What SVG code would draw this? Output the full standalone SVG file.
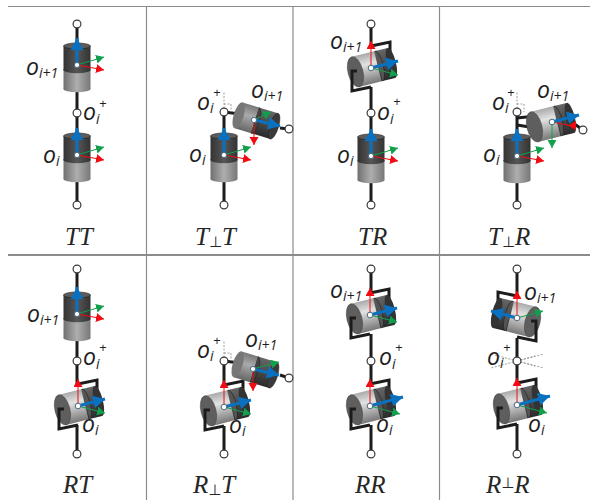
<svg xmlns="http://www.w3.org/2000/svg" xmlns:xlink="http://www.w3.org/1999/xlink" width="590" height="501" viewBox="0 0 590 501">
<style>
.grid{stroke:#8c8c8c;fill:none}
.ax{stroke:#1c1c1c;stroke-width:3;fill:none}
.br{stroke:#1c1c1c;stroke-width:3;fill:none;stroke-linejoin:miter}
.pt{fill:#fff;stroke:#3a3a3a;stroke-width:1.2}
.org{fill:#fff;stroke:#4a6a80;stroke-width:1}
.bl{stroke:#0a70c0;stroke-width:3;fill:none;marker-end:url(#mb)}
.re{stroke:#f00c12;stroke-width:1;fill:none;marker-end:url(#mr)}
.gr{stroke:#10a04c;stroke-width:1;fill:none;marker-end:url(#mg)}
.dot{stroke:#888;stroke-width:.8;stroke-dasharray:2 1.5;fill:none}
.o{font:italic 23px "Open Sans","Liberation Sans",sans-serif;fill:#1e1e1e}
.s{font-size:14px}
.p{font:italic 13px "Open Sans","Liberation Sans",sans-serif;fill:#1e1e1e}
.c{font:italic 25px "Liberation Serif",serif;fill:#262626}
.u{font:15px "DejaVu Sans",sans-serif;fill:#262626}
</style>
<defs>
<marker id="mb" markerUnits="userSpaceOnUse" markerWidth="14" markerHeight="14" refX="12" refY="7" orient="auto"><path d="M0,.5L12,7L0,13.500z" fill="#0a70c0"/></marker>
<marker id="mr" markerUnits="userSpaceOnUse" markerWidth="10" markerHeight="10" refX="8" refY="4.500" orient="auto"><path d="M0,0L8,4.500L0,9z" fill="#f00c12"/></marker>
<marker id="mg" markerUnits="userSpaceOnUse" markerWidth="10" markerHeight="10" refX="8" refY="4.500" orient="auto"><path d="M0,0L8,4.500L0,9z" fill="#10a04c"/></marker>
<linearGradient id="gd"><stop offset="0" stop-color="#333"/><stop offset=".5" stop-color="#565656"/><stop offset="1" stop-color="#333"/></linearGradient>
<linearGradient id="gg"><stop offset="0" stop-color="#707070"/><stop offset=".5" stop-color="#aeaeae"/><stop offset="1" stop-color="#777"/></linearGradient>
<linearGradient id="gl" x1="0" y1="0" x2="0" y2="1"><stop offset="0" stop-color="#aaa"/><stop offset=".35" stop-color="#e2e2e2"/><stop offset="1" stop-color="#777"/></linearGradient>
<linearGradient id="gk" x1="0" y1="0" x2="0" y2="1"><stop offset="0" stop-color="#666"/><stop offset=".5" stop-color="#4a4a4a"/><stop offset="1" stop-color="#2a2a2a"/></linearGradient>
<linearGradient id="gm" x1="0" y1="0" x2="0" y2="1"><stop offset="0" stop-color="#777"/><stop offset=".4" stop-color="#aaa"/><stop offset="1" stop-color="#666"/></linearGradient>
<g id="pc">
<rect x="-13.500" y="4" width="27" height="20" fill="url(#gg)"/>
<ellipse cy="24" rx="13.500" ry="3.200" fill="url(#gg)"/>
<rect x="-13.500" y="-19" width="27" height="24" fill="url(#gd)"/>
<ellipse cy="5" rx="13.500" ry="3.200" fill="url(#gd)"/>
<ellipse cy="-19" rx="13.500" ry="3" fill="#5c5c5c" stroke="#222" stroke-width=".6"/>
</g>
<g id="pf">
<use xlink:href="#pc" href="#pc"/>
<path class="gr" d="M0,0L27,-8"/><path class="re" d="M0,0L27,5"/><path class="bl" d="M0,0L0,-27"/>
<circle class="org" r="2.600"/>
</g>
<g id="tc" transform="rotate(17)">
<rect x="-16" y="-13.500" width="18" height="27" fill="url(#gm)"/>
<ellipse cx="-16" rx="5" ry="13.500" fill="#777"/>
<rect x="1" y="-13.500" width="20" height="27" fill="url(#gk)"/>
<path d="M1,-13.500A4.500,13.500 0 0 1 1,13.500" fill="#444" stroke="#222" stroke-width=".5"/>
<ellipse cx="21" rx="4.500" ry="13.500" fill="#3a3a3a" stroke="#222" stroke-width=".5"/>
</g>
<g id="rc" transform="rotate(-14)">
<rect x="-16" y="-15.500" width="24" height="31" fill="url(#gl)"/>
<rect x="7" y="-15.500" width="14" height="31" fill="url(#gk)"/>
<ellipse cx="21" rx="4.500" ry="15.500" fill="#333"/>
<path d="M8,-15.500A4.500,15.500 0 0 1 8,15.500" fill="#555" stroke="#222" stroke-width=".6"/>
<ellipse cx="-16" rx="7.500" ry="15.500" fill="#5e5e5e" stroke="#444" stroke-width=".5"/>
</g>
<g id="rf">
<path class="br" d="M0,-22L19,-26V-3"/>
<use xlink:href="#rc" href="#rc"/>
<path class="br" d="M-14,3H-19V23L0,19"/>
</g>
<g id="rfa">
<path class="gr" d="M0,0L27,7"/><path class="re" d="M0,0L0,-27"/><path class="bl" d="M0,0L27,-7"/>
<circle class="org" r="2.800"/>
</g>
<g id="rfb">
<path class="gr" d="M0,0L30,8"/><path class="re" d="M0,0L0,-27"/><path class="bl" d="M0,0L33,-9"/>
<circle class="org" r="2.800"/>
</g>
</defs>

<g id="grid">
<path class="grid" stroke-width="1.2" d="M8,6.500H590"/>
<path class="grid" stroke-width="2" d="M8,255H590"/>
<path class="grid" stroke-width="1.2" d="M146.500,6V500M293,6V500M439.500,6V500"/>
</g>

<g id="connectors">
<path class="ax" d="M77,24V205M224,112V205M371,24V45M371,87V205M517,112V205"/>
<path class="ax" d="M77,269V384M77,425V454M224,361V385M224,426V454M371,269V292M371,334V384M371,425V454M517,269V296M517,338V383M517,424V454"/>
<path class="ax" d="M224,112L240,114M280,128L289,129"/>
<path class="ax" d="M224,361L240,363M280,375L289,378"/>
<path class="br" d="M517,118L536,116M517,125L536,128M566,118L583,130"/>
<path class="dot" d="M224,112V92M224,104H231V112"/>
<path class="dot" d="M517,112V92M517,104H524V112"/>
<path class="dot" d="M224,361V341M224,353H231V361"/>
<path class="dot" d="M517,361L544,354M517,361L544,368M517,361L491,354M517,361L491,368M517,361L535,356M517,361L535,366"/>
</g>

<g id="TT-joints">
<use id="TT-b" xlink:href="#pf" href="#pf" x="77" y="155"/>
<use id="TT-a" xlink:href="#pf" href="#pf" x="77" y="65"/>
</g>
<g id="TpT-joints">
<use xlink:href="#pf" href="#pf" x="224" y="155"/>
<g transform="translate(254,120)"><use xlink:href="#tc" href="#tc"/>
<path class="gr" d="M0,0L17,-8"/><path class="re" d="M0,0V25"/><path class="bl" d="M0,0L26,6"/><circle class="org" r="2.600"/></g>
</g>
<g id="TR-joints">
<use xlink:href="#pf" href="#pf" x="371" y="156"/>
<g transform="translate(371,68)"><use xlink:href="#rf" href="#rf"/><use xlink:href="#rfa" href="#rfa"/></g>
</g>
<g id="TpR-joints">
<use xlink:href="#pf" href="#pf" x="517" y="156"/>
<g transform="translate(550,123)"><use xlink:href="#rc" href="#rc"/></g>
<g transform="translate(552,122)"><path d="M0,0L20,4" stroke="#f00c12" fill="none"/><path d="M16,3.500L24,-1V8z" fill="#f00c12"/><path class="gr" d="M0,0V26"/><path class="bl" d="M0,0L27,-7"/><circle class="org" r="2.800"/></g>
</g>
<g id="RT-joints">
<use xlink:href="#pf" href="#pf" x="77" y="314"/>
<g transform="translate(78,406)"><use xlink:href="#rf" href="#rf"/><use xlink:href="#rfa" href="#rfa"/></g>
</g>
<g id="RpT-joints">
<g transform="translate(224,407)"><use xlink:href="#rf" href="#rf"/><use xlink:href="#rfa" href="#rfa"/></g>
<g transform="translate(253,369)"><use xlink:href="#tc" href="#tc"/>
<path class="gr" d="M0,0L26,-7"/><path class="re" d="M0,0V22"/><path class="bl" d="M0,0L26,6"/><circle class="org" r="2.600"/></g>
</g>
<g id="RR-joints">
<g transform="translate(370,315)"><use xlink:href="#rf" href="#rf"/><use xlink:href="#rfa" href="#rfa"/></g>
<g transform="translate(370,406)"><use xlink:href="#rf" href="#rf"/><use xlink:href="#rfb" href="#rfb"/></g>
</g>
<g id="RpR-joints">
<g transform="translate(517,318)"><g transform="scale(-1,1)"><use xlink:href="#rf" href="#rf"/></g>
<path class="gr" d="M0,0L26,-7"/><path class="re" d="M0,0V-27"/><path class="bl" d="M0,0L-26,-7"/><circle class="org" r="2.800"/></g>
<g transform="translate(517,405)"><use xlink:href="#rf" href="#rf"/><use xlink:href="#rfb" href="#rfb"/></g>
</g>

<g id="end-points">
<circle class="pt" cx="77" cy="24" r="3.900"/><circle class="pt" cx="77" cy="113" r="3.900"/><circle class="pt" cx="77" cy="205" r="3.900"/>
<circle class="pt" cx="224" cy="112" r="3.900"/><circle class="pt" cx="224" cy="205" r="3.900"/><circle class="pt" cx="289" cy="129" r="3.900"/>
<circle class="pt" cx="371" cy="24" r="3.900"/><circle class="pt" cx="371" cy="113" r="3.900"/><circle class="pt" cx="371" cy="205" r="3.900"/>
<circle class="pt" cx="517" cy="112" r="3.900"/><circle class="pt" cx="517" cy="205" r="3.900"/><circle class="pt" cx="583" cy="130" r="3.900"/>
<circle class="pt" cx="77" cy="269" r="3.900"/><circle class="pt" cx="77" cy="361" r="3.900"/><circle class="pt" cx="77" cy="454" r="3.900"/>
<circle class="pt" cx="224" cy="361" r="3.900"/><circle class="pt" cx="224" cy="454" r="3.900"/><circle class="pt" cx="289" cy="378" r="3.900"/>
<circle class="pt" cx="371" cy="269" r="3.900"/><circle class="pt" cx="371" cy="361" r="3.900"/><circle class="pt" cx="371" cy="454" r="3.900"/>
<circle class="pt" cx="517" cy="269" r="3.900"/><circle class="pt" cx="517" cy="361" r="3.900"/><circle class="pt" cx="517" cy="454" r="3.900"/>
</g>

<g id="labels">
<text class="o" x="26" y="75">o<tspan class="s" dy="3">i+1</tspan></text>
<text class="o" x="83" y="120">o<tspan class="s" dy="4">i</tspan></text><text class="p" x="99" y="108">+</text>
<text class="o" x="43" y="163">o<tspan class="s" dy="3">i</tspan></text>
<text class="o" x="197" y="110">o<tspan class="s" dy="3">i</tspan></text><text class="p" x="213" y="97">+</text>
<text class="o" x="251" y="98">o<tspan class="s" dy="3">i+1</tspan></text>
<text class="o" x="189" y="162">o<tspan class="s" dy="3">i</tspan></text>
<text class="o" x="330" y="49">o<tspan class="s" dy="3">i+1</tspan></text>
<text class="o" x="377" y="120">o<tspan class="s" dy="4">i</tspan></text><text class="p" x="393" y="106">+</text>
<text class="o" x="337" y="163">o<tspan class="s" dy="3">i</tspan></text>
<text class="o" x="492" y="110">o<tspan class="s" dy="3">i</tspan></text><text class="p" x="507" y="97">+</text>
<text class="o" x="537" y="98">o<tspan class="s" dy="3">i+1</tspan></text>
<text class="o" x="483" y="162">o<tspan class="s" dy="3">i</tspan></text>
<text class="o" x="27" y="322">o<tspan class="s" dy="3">i+1</tspan></text>
<text class="o" x="83" y="365">o<tspan class="s" dy="4">i</tspan></text><text class="p" x="99" y="352">+</text>
<text class="o" x="82" y="432">o<tspan class="s" dy="3">i</tspan></text>
<text class="o" x="197" y="358">o<tspan class="s" dy="3">i</tspan></text><text class="p" x="213" y="345">+</text>
<text class="o" x="245" y="347">o<tspan class="s" dy="3">i+1</tspan></text>
<text class="o" x="229" y="433">o<tspan class="s" dy="3">i</tspan></text>
<text class="o" x="330" y="298">o<tspan class="s" dy="3">i+1</tspan></text>
<text class="o" x="379" y="365">o<tspan class="s" dy="4">i</tspan></text><text class="p" x="395" y="352">+</text>
<text class="o" x="376" y="432">o<tspan class="s" dy="3">i</tspan></text>
<text class="o" x="524" y="300">o<tspan class="s" dy="3">i+1</tspan></text>
<text class="o" x="487" y="365">o<tspan class="s" dy="3">i</tspan></text><text class="p" x="503" y="352">+</text>
<text class="o" x="528" y="432">o<tspan class="s" dy="3">i</tspan></text>
</g>

<g id="captions">
<text class="c" x="65" y="245">TT</text>
<text class="c" x="195" y="245">T<tspan class="u" dy="2">⊥</tspan><tspan dy="-2">T</tspan></text>
<text class="c" x="358" y="245">TR</text>
<text class="c" x="488" y="245">T<tspan class="u" dy="2">⊥</tspan><tspan dy="-2">R</tspan></text>
<text class="c" x="63" y="493">RT</text>
<text class="c" x="193" y="493">R<tspan class="u" dy="2">⊥</tspan><tspan dy="-2">T</tspan></text>
<text class="c" x="355" y="493">RR</text>
<text class="c" x="486" y="493">R<tspan class="u" dy="-5">⊥</tspan><tspan dy="5">R</tspan></text>
</g>
</svg>
